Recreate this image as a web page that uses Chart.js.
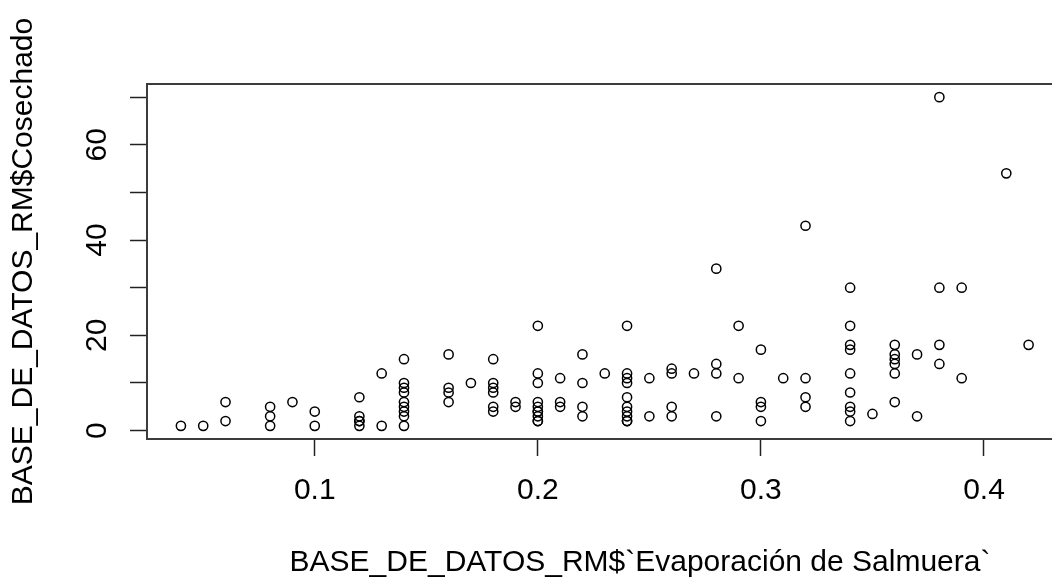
<!DOCTYPE html>
<html><head><meta charset="utf-8">
<script src="https://cdn.jsdelivr.net/npm/chart.js@4.4.1/dist/chart.umd.min.js"></script>
<style>
html,body{margin:0;padding:0;overflow:hidden;background:#fff;width:1052px;height:578px}
#wrap{position:absolute;left:0;top:0;width:1150px;height:578px}
</style></head>
<body><div id="wrap"><canvas id="c" width="1150" height="578"></canvas></div>
<script>
// Data (x = Evaporación de Salmuera, y = Cosechado)
const xValues = [
  0.04, 0.05,
  0.06, 0.06,
  0.08, 0.08, 0.08,
  0.09,
  0.10, 0.10,
  0.12, 0.12, 0.12, 0.12, 0.12,
  0.13, 0.13,
  0.14, 0.14, 0.14, 0.14, 0.14, 0.14, 0.14, 0.14, 0.14,
  0.16, 0.16, 0.16, 0.16,
  0.17,
  0.18, 0.18, 0.18, 0.18, 0.18, 0.18,
  0.19, 0.19,
  0.20, 0.20, 0.20, 0.20, 0.20, 0.20, 0.20, 0.20, 0.20, 0.20,
  0.21, 0.21, 0.21,
  0.22, 0.22, 0.22, 0.22,
  0.23,
  0.24, 0.24, 0.24, 0.24, 0.24, 0.24, 0.24, 0.24, 0.24, 0.24,
  0.25, 0.25,
  0.26, 0.26, 0.26, 0.26,
  0.27,
  0.28, 0.28, 0.28, 0.28,
  0.29, 0.29,
  0.30, 0.30, 0.30, 0.30,
  0.31,
  0.32, 0.32, 0.32, 0.32,
  0.34, 0.34, 0.34, 0.34, 0.34, 0.34, 0.34, 0.34, 0.34,
  0.35,
  0.36, 0.36, 0.36, 0.36, 0.36, 0.36,
  0.37, 0.37,
  0.38, 0.38, 0.38, 0.38,
  0.39, 0.39,
  0.41,
  0.42
];
const yValues = [
  1, 1,
  6, 2,
  5, 3, 1,
  6,
  4, 1,
  7, 3, 2, 2, 1,
  12, 1,
  15, 10, 9, 8, 6, 5, 4, 3, 1,
  16, 9, 8, 6,
  10,
  15, 10, 9, 8, 5, 4,
  6, 5,
  22, 12, 10, 6, 5, 4, 4, 3, 2, 2,
  11, 6, 5,
  16, 10, 5, 3,
  12,
  22, 12, 11, 10, 7, 5, 4, 3, 2, 2,
  11, 3,
  13, 12, 5, 3,
  12,
  34, 14, 12, 3,
  22, 11,
  17, 6, 5, 2,
  11,
  43, 11, 7, 5,
  30, 22, 18, 17, 12, 8, 5, 4, 2,
  3.5,
  18, 16, 15, 14, 12, 6,
  16, 3,
  70, 30, 18, 14,
  30, 11,
  54,
  18
];
const xTicks = [0.1, 0.2, 0.3, 0.4];
const xTickLabels = ['0.1', '0.2', '0.3', '0.4'];
const yTicks = [0, 10, 20, 30, 40, 50, 60, 70];
const yTickLabels = ['0', '', '20', '', '40', '', '60', ''];
const xTitle = 'BASE_DE_DATOS_RM$`Evaporación de Salmuera`';
const yTitle = 'BASE_DE_DATOS_RM$Cosechado';
// right end of the x axis lies outside the visible picture; value read from the layout
const xAxisRightEnd = 0.4668;

// R-style axis range: data range extended by 4% on each side
function rRange(v) {
  const lo = Math.min(...v), hi = Math.max(...v), d = (hi - lo) * 0.04;
  return [lo - d, hi + d];
}
const [xMin] = rRange(xValues);
const [yMin, yMax] = rRange(yValues);

const FONT = 'Liberation Sans, Arial, sans-serif';
const FSIZE = 30;

const points = xValues.map((x, i) => ({x: x, y: yValues[i]}));

const rStyle = {
  id: 'rstyle',
  afterDraw(chart) {
    const ctx = chart.ctx, a = chart.chartArea;
    ctx.save();
    ctx.strokeStyle = '#3c3c3c';
    ctx.lineWidth = 2;
    ctx.strokeRect(a.left, a.top, a.right - a.left, a.bottom - a.top);
    // y tick labels, parallel to the axis (R las=0)
    const ys = chart.scales.y;
    ctx.fillStyle = '#000';
    ctx.font = FSIZE + 'px ' + FONT;
    ctx.textAlign = 'center';
    ctx.textBaseline = 'alphabetic';
    yTicks.forEach((v, i) => {
      const lab = yTickLabels[i];
      if (!lab) return;
      const py = ys.getPixelForValue(v);
      ctx.save();
      ctx.translate(105.7, py);
      ctx.rotate(-Math.PI / 2);
      ctx.fillText(lab, 0, 0);
      ctx.restore();
    });
    ctx.restore();
  }
};

new Chart(document.getElementById('c'), {
  type: 'scatter',
  data: {
    datasets: [{
      data: points,
      pointStyle: 'circle',
      pointRadius: 4.6,
      pointHoverRadius: 4.6,
      borderWidth: 1.5,
      borderColor: '#000',
      backgroundColor: 'rgba(0,0,0,0)'
    }]
  },
  options: {
    responsive: false,
    animation: false,
    devicePixelRatio: 1,
    events: [],
    layout: {padding: {top: 84, right: 17, bottom: 0, left: 0}},
    plugins: {legend: {display: false}, tooltip: {enabled: false}},
    scales: {
      x: {
        type: 'linear',
        min: xMin, max: xAxisRightEnd,
        afterBuildTicks: s => { s.ticks = xTicks.map(v => ({value: v})); },
        afterFit: s => { s.height = 139; },
        grid: {display: true, drawOnChartArea: false, drawTicks: true, tickLength: 17, tickColor: '#222', tickWidth: 1.5},
        border: {display: false},
        ticks: {
          font: {family: FONT, size: FSIZE}, color: '#000', padding: 17, maxRotation: 0,
          callback: (v) => xTickLabels[xTicks.indexOf(v)]
        },
        title: {display: true, text: xTitle, color: '#000', font: {family: FONT, size: FSIZE}, padding: {top: 0, bottom: -3}}
      },
      y: {
        type: 'linear',
        min: yMin, max: yMax,
        afterBuildTicks: s => { s.ticks = yTicks.map(v => ({value: v})); },
        afterFit: s => { s.width = 147; },
        grid: {display: true, drawOnChartArea: false, drawTicks: true, tickLength: 17, tickColor: '#222', tickWidth: 1.5},
        border: {display: false},
        ticks: {display: false},
        title: {display: true, text: yTitle, color: '#000', font: {family: FONT, size: FSIZE}, padding: {top: 5.3, bottom: 0}}
      }
    }
  },
  plugins: [rStyle]
});
</script>
</body></html>
